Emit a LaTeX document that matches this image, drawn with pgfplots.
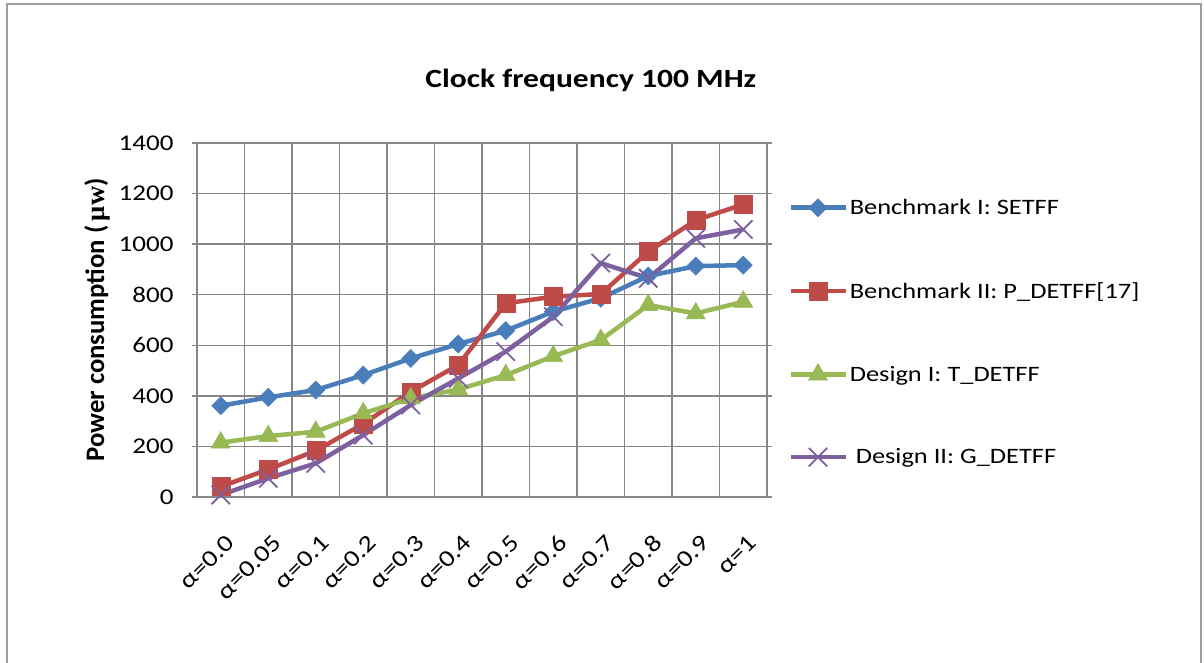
\documentclass[border=0pt]{standalone}
\usepackage{fontspec}
\setmainfont{Carlito}[FakeStretch=1.2]
\newfontfamily\ylfont{Carlito}
\newfontfamily\serifb{Liberation Serif}
\usepackage{pgfplots}
\pgfplotsset{compat=1.18}
\definecolor{cblue}{RGB}{74,126,187}
\definecolor{cred}{RGB}{190,75,72}
\definecolor{cgreen}{RGB}{152,185,84}
\definecolor{cpurple}{RGB}{125,96,160}
\definecolor{gridgray}{RGB}{134,134,134}
\begin{document}
\begin{tikzpicture}[x=1pt,y=1pt]
\useasboundingbox (0,0) rectangle (1204,663);
\fill[white] (0,0) rectangle (1204,663);
\draw[color=gridgray!80, line width=2pt] (7,-10) rectangle (1201,659);
\begin{axis}[
  at={(197pt,166pt)}, anchor=south west,
  scale only axis, width=570pt, height=354pt,
  xmin=-0.5, xmax=11.5, ymin=0, ymax=1400,
  xtick={0.2,1.2,2.2,3.2,4.2,5.2,6.2,7.2,8.2,9.2,10.2,11.2},
  xticklabels={α=0.0,α=0.05,α=0.1,α=0.2,α=0.3,α=0.4,α=0.5,α=0.6,α=0.7,α=0.8,α=0.9,α=1},
  extra x ticks={-0.5,0.5,1.5,2.5,3.5,4.5,5.5,6.5,7.5,8.5,9.5,10.5,11.5},
  extra x tick labels={},
  extra x tick style={xmajorgrids=true, xtick style={draw=none}},
  ytick={0,200,...,1400},
  xmajorgrids=false, ymajorgrids=true,
  grid style={gridgray, line width=1.5pt},
  axis line style={gridgray, line width=1.5pt},
  tick style={gridgray, line width=1.5pt},
  xtick style={draw=none},
  tick align=outside, major tick length=5pt,
  /pgf/number format/assume math mode=true,
  /pgf/number format/1000 sep={},
  ticklabel style={font=\fontsize{22.5}{27}\selectfont, text=black},
  yticklabel style={xshift=-15pt},
  xticklabel style={rotate=45, anchor=east, inner sep=0pt, font=\fontsize{23.5}{27}\selectfont},
  xticklabel shift=37pt,
  title={Clock frequency 100 MHz},
  title style={font=\bfseries\fontsize{26.3}{30}\selectfont, at={(axis description cs:0.691,1.161)}, anchor=center},
  ylabel={{\ylfont\bfseries Power consumption (\,}{\serifb\bfseries μw}{\ylfont\bfseries )}},
  ylabel style={font=\fontsize{26.7}{30}\selectfont, at={(axis description cs:-0.1754,0.5)}, anchor=center},
  legend style={at={(axis description cs:1.037,0.847)}, anchor=north west, draw=none, fill=none,
    font=\fontsize{22}{26}\selectfont, row sep=62pt, inner sep=0pt},
  legend cell align=left,
  legend image code/.code={\draw[mark repeat=2,mark phase=2] plot coordinates {(0pt,0pt) (27.5pt,0pt) (55pt,0pt)};},
]
\addplot[color=cblue, line width=4.5pt, mark=square*, mark size=6.4pt, mark options={rotate=45, line width=0.5pt}]
  coordinates {(0,361) (1,394) (2,423) (3,482) (4,548) (5,605) (6,658) (7,733) (8,786) (9,874) (10,913) (11,917)};
\addlegendentry{Benchmark I: SETFF}
\addplot[color=cred, line width=4.5pt, mark=square*, mark size=9pt, mark options={line width=0.5pt}]
  coordinates {(0,41) (1,109) (2,183) (3,289) (4,416) (5,522) (6,766) (7,792) (8,803) (9,970) (10,1095) (11,1157)};
\addlegendentry{Benchmark II: P\_DETFF[17]}
\addplot[color=cgreen, line width=4.5pt, mark=triangle*, mark size=11pt, mark options={line width=0.5pt}]
  coordinates {(0,215) (1,241) (2,258) (3,331) (4,390) (5,425) (6,482) (7,557) (8,621) (9,759) (10,726) (11,772)};
\addlegendentry{Design I: T\_DETFF}
\addplot[color=cpurple, line width=4.5pt, mark=x, mark size=13pt, mark options={line width=1.8pt}]
  coordinates {(0,8) (1,74) (2,133) (3,245) (4,364) (5,469) (6,575) (7,713) (8,925) (9,865) (10,1023) (11,1058)};
\addlegendentry{\ Design II: G\_DETFF}
\end{axis}
\end{tikzpicture}
\end{document}
